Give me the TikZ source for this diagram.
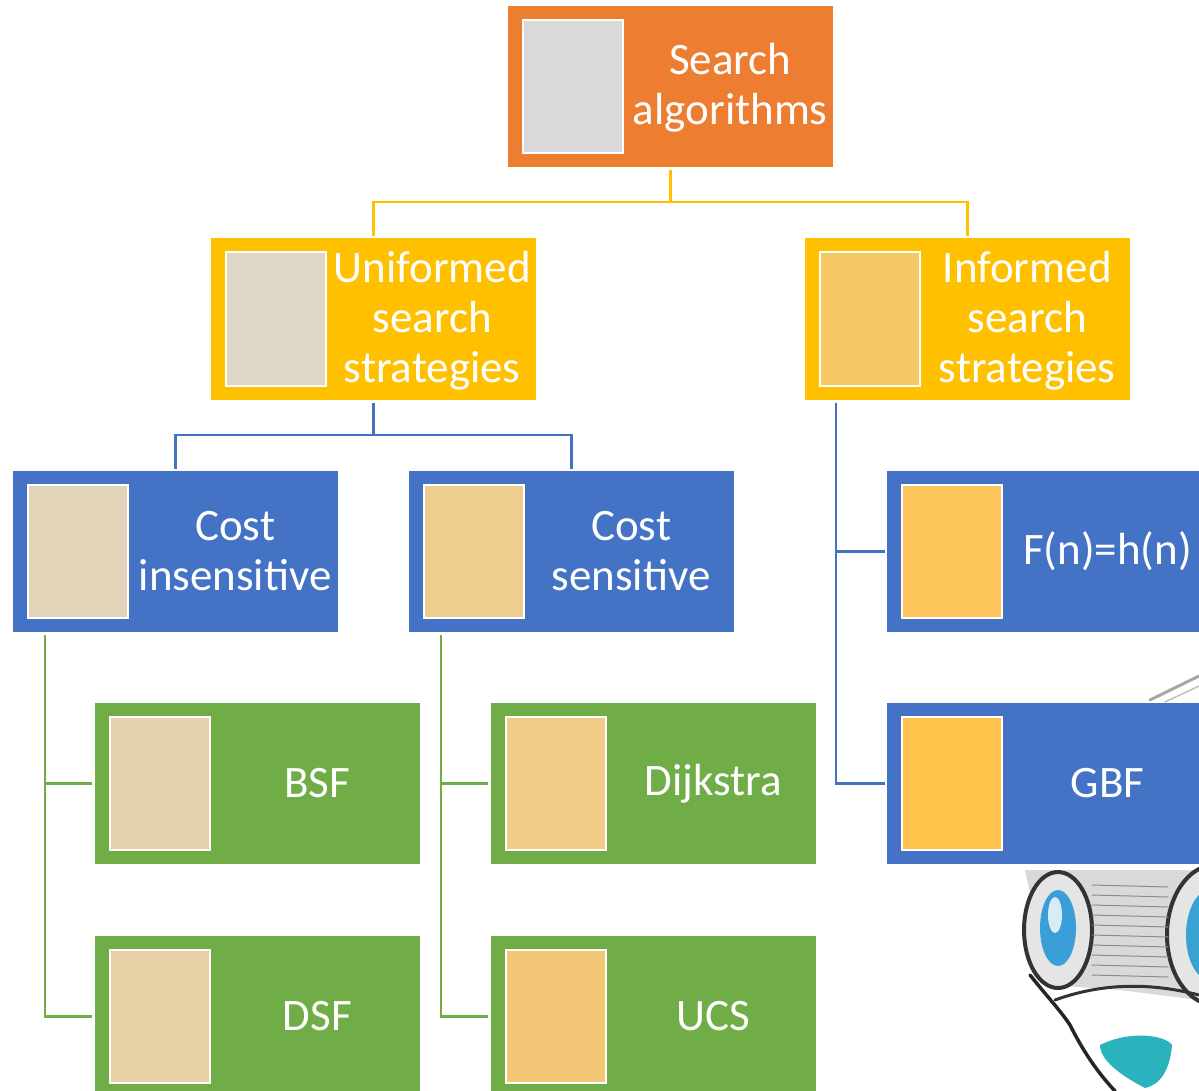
\documentclass[tikz,border=0pt]{standalone}
\usepackage{fontspec}
\setmainfont{Carlito}
\usepackage{xcolor}
\usepackage{tikz}
\usetikzlibrary{positioning,calc}

\definecolor{rootorange}{HTML}{ED7D31}
\definecolor{stratgold}{HTML}{FFC000}
\definecolor{costblue}{HTML}{4472C4}
\definecolor{algogreen}{HTML}{70AD47}
\definecolor{thumbgrey}{HTML}{D9D9D9}
\definecolor{thumbuni}{HTML}{DFD7C5}
\definecolor{thumbinf}{HTML}{F5C865}
\definecolor{thumbci}{HTML}{E2D4B9}
\definecolor{thumbcs}{HTML}{EDCE8E}
\definecolor{thumbfn}{HTML}{FCC55A}
\definecolor{thumbgbf}{HTML}{FFC24B}
\definecolor{thumbbsf}{HTML}{E5D1AD}
\definecolor{thumbdsf}{HTML}{E7D0A6}
\definecolor{thumbdij}{HTML}{F0CC86}
\definecolor{thumbucs}{HTML}{F3C776}
\definecolor{goggle}{HTML}{3A9FD8}
\definecolor{teal}{HTML}{2BB3BD}

\tikzset{
  card/.style={rectangle, minimum width=325pt, minimum height=161pt, inner sep=0pt},
  thumb/.style={rectangle, draw=white, line width=2pt, minimum width=100pt, minimum height=133pt, inner sep=0pt, anchor=west},
  lbl/.style={text=white, align=center, inner sep=0pt, font=\fontsize{45}{50}\selectfont},
  link/.style={line width=2.2pt},
}

\begin{document}
\begin{tikzpicture}[x=1pt, y=-1pt]
    \useasboundingbox (0,0) rectangle (1199,1091);
    \clip (0,0) rectangle (1199,1091);

    % sketch in the corner, behind the boxes
    \begin{scope}[line cap=round]
        \draw[gray!70, line width=3pt] (1150,700) -- (1199,676);
        \draw[gray!50, line width=1.5pt] (1165,702) -- (1199,686);
        \fill[gray!30] (1025,870) -- (1199,870) -- (1199,1000) -- (1120,990) -- (1050,985) -- cycle;
        \draw[black!80, line width=4pt, fill=gray!20] (1058,930) ellipse (34pt and 58pt);
        \fill[goggle] (1058,928) ellipse (18pt and 38pt);
        \fill[white!80!goggle] (1055,915) ellipse (7pt and 18pt);
        \draw[black!80, line width=4pt, fill=gray!20] (1215,935) ellipse (48pt and 70pt);
        \fill[goggle!80!teal] (1210,935) ellipse (24pt and 45pt);
        \foreach \yy in {885,895,...,975}
            \draw[black!45, line width=1pt] (1092,\yy) -- (1168,\yy+2);
        \draw[black!80, line width=3pt] (1055,1000) .. controls (1110,980) and (1160,985) .. (1199,995);
        \draw[black!85, line width=3.5pt] (1030,975) .. controls (1050,1000) and (1060,1010) .. (1070,1025)
            .. controls (1085,1055) and (1100,1075) .. (1115,1091);
        \fill[teal] (1100,1045) .. controls (1130,1030) and (1165,1035) .. (1172,1045)
            .. controls (1170,1070) and (1160,1085) .. (1145,1088)
            .. controls (1120,1075) and (1100,1060) .. cycle;
    \end{scope}

    % top
    \node[card, fill=rootorange] (root) at (670.5,86.5) {};
    \node[thumb, fill=thumbgrey] (rootpic) at ([xshift=14]root.west) {};
    \node[lbl] (roottxt) at ([xshift=-103,yshift=-1]root.east) {Search\\algorithms};

    % second row
    \node[card, fill=stratgold] (uni) at (373.5,319) {};
    \node[thumb, fill=thumbuni] (unipic) at ([xshift=14]uni.west) {};
    \node[lbl] (unitxt) at ([xshift=-104,yshift=-2]uni.east) {Uniformed\\search\\strategies};

    \node[card, fill=stratgold] (inf) at (967.5,319) {};
    \node[thumb, fill=thumbinf] (infpic) at ([xshift=14]inf.west) {};
    \node[lbl] (inftxt) at ([xshift=-103,yshift=-2]inf.east) {Informed\\search\\strategies};

    % third row
    \node[card, fill=costblue] (ci) at (175.5,551.5) {};
    \node[thumb, fill=thumbci] (cipic) at ([xshift=14]ci.west) {};
    \node[lbl] (citxt) at ([xshift=-103]ci.east) {Cost\\insensitive};

    \node[card, fill=costblue] (cs) at (571.5,551.5) {};
    \node[thumb, fill=thumbcs] (cspic) at ([xshift=14]cs.west) {};
    \node[lbl] (cstxt) at ([xshift=-103]cs.east) {Cost\\sensitive};

    \node[card, fill=costblue] (fn) at (1049.5,551.5) {};
    \node[thumb, fill=thumbfn] (fnpic) at ([xshift=14]fn.west) {};
    \node[lbl] (fntxt) at ([xshift=58]fn.center) {F(n)=h(n)};

    \node[card, fill=costblue] (gbf) at (1049.5,783.5) {};
    \node[thumb, fill=thumbgbf] (gbfpic) at ([xshift=14]gbf.west) {};
    \node[lbl] (gbftxt) at ([xshift=58]gbf.center) {GBF};

    % leaves
    \node[card, fill=algogreen] (bsf) at (257.5,783.5) {};
    \node[thumb, fill=thumbbsf] (bsfpic) at ([xshift=14]bsf.west) {};
    \node[lbl] (bsftxt) at ([xshift=-103]bsf.east) {BSF};

    \node[card, fill=algogreen] (dsf) at (257.5,1016.5) {};
    \node[thumb, fill=thumbdsf] (dsfpic) at ([xshift=14]dsf.west) {};
    \node[lbl] (dsftxt) at ([xshift=-103]dsf.east) {DSF};

    \node[card, fill=algogreen] (dij) at (653.5,783.5) {};
    \node[thumb, fill=thumbdij] (dijpic) at ([xshift=14]dij.west) {};
    \node[lbl] (dijtxt) at ([xshift=-103]dij.east) {Dijkstra};

    \node[card, fill=algogreen] (ucs) at (653.5,1016.5) {};
    \node[thumb, fill=thumbucs] (ucspic) at ([xshift=14]ucs.west) {};
    \node[lbl] (ucstxt) at ([xshift=-103]ucs.east) {UCS};

    % connectors (yshift is in page direction, so negative goes down)
    \draw[link, stratgold] ([yshift=-3]root.south) -- ++(0,32) -| ([yshift=2]uni.north);
    \draw[link, stratgold] ([yshift=-3]root.south) -- ++(0,32) -| ([yshift=2]inf.north);

    \draw[link, costblue] ([yshift=-3]uni.south) -- ++(0,32) -| ([yshift=2]ci.north);
    \draw[link, costblue] ([yshift=-3]uni.south) -- ++(0,32) -| ([yshift=2]cs.north);
    \draw[link, costblue] ([xshift=31,yshift=-3]inf.south west) |- ([xshift=-2]fn.west);
    \draw[link, costblue] ([xshift=31,yshift=-3]inf.south west) |- ([xshift=-2]gbf.west);

    \draw[link, algogreen] ([xshift=32,yshift=-3]ci.south west) |- ([xshift=-3]bsf.west);
    \draw[link, algogreen] ([xshift=32,yshift=-3]ci.south west) |- ([xshift=-3]dsf.west);
    \draw[link, algogreen] ([xshift=32,yshift=-3]cs.south west) |- ([xshift=-3]dij.west);
    \draw[link, algogreen] ([xshift=32,yshift=-3]cs.south west) |- ([xshift=-3]ucs.west);
\end{tikzpicture}
\end{document}
